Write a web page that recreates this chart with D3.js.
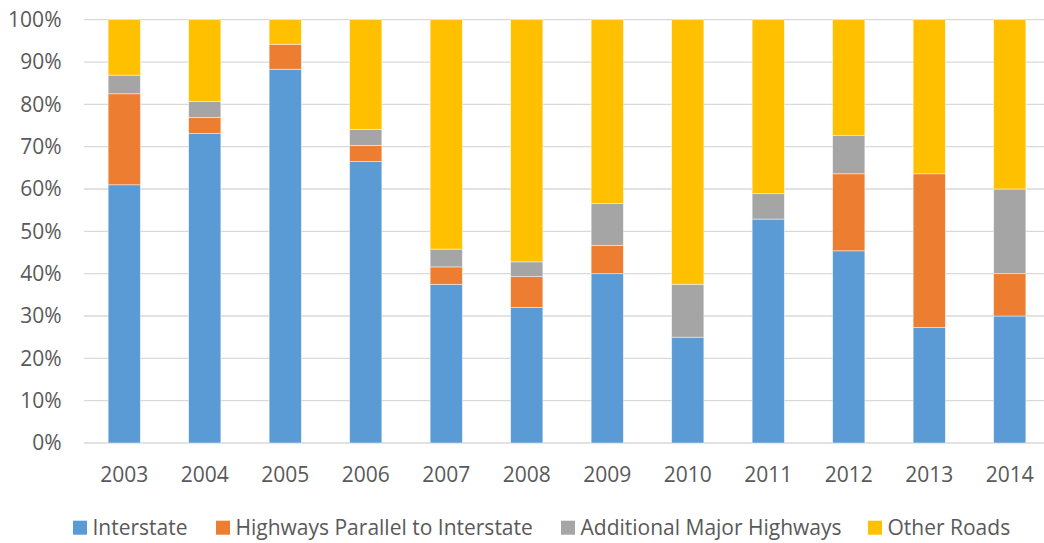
<!DOCTYPE html>
<html><head><meta charset="utf-8">
<script src="https://cdn.jsdelivr.net/npm/d3@7"></script>
<style>body{margin:0;background:#fff}svg text{font-family:"Open Sans",sans-serif;fill:#595959}</style>
</head><body><svg id="c" width="1044" height="543"></svg>
<script>
const years = ["2003","2004","2005","2006","2007","2008","2009","2010","2011","2012","2013","2014"];
const seriesNames = ["Interstate","Highways Parallel to Interstate","Additional Major Highways","Other Roads"];
const interstate = [61.0,73.1,88.3,66.5,37.5,32.0,40.0,25.0,52.9,45.4,27.3,30.0];
const parallel   = [21.5,3.8,5.9,3.8,4.1,7.3,6.7,0,0,18.2,36.3,10.0];
const additional = [4.4,3.8,0,3.8,4.2,3.5,9.9,12.5,6.0,9.1,0,20.0];
const other      = [13.1,19.3,5.8,25.9,54.2,57.2,43.4,62.5,41.1,27.3,36.4,40.0];
const yTicks = [0,10,20,30,40,50,60,70,80,90,100];
const colors = ["#5B9BD5","#ED7D31","#A5A5A5","#FFC000"];

const svg = d3.select("#c");
const m = {l:84, r:1050, t:19.7, b:443};
const x = d3.scaleBand().domain(years).range([m.l, m.r]).paddingInner(0.6).paddingOuter(0.3);
const y = d3.scaleLinear().domain([0,100]).range([m.b, m.t]);

const rows = years.map((yr,i)=>({year:yr, s0:interstate[i], s1:parallel[i], s2:additional[i], s3:other[i]}));
const stack = d3.stack().keys(["s0","s1","s2","s3"]);
const layers = stack(rows);

// gridlines
svg.append("g").selectAll("line").data(yTicks).join("line")
  .attr("x1", m.l).attr("x2", m.r)
  .attr("y1", d=>y(d)).attr("y2", d=>y(d))
  .attr("stroke", "#D9D9D9").attr("stroke-width", 1.3);

// bars
svg.append("g").selectAll("g").data(layers).join("g")
  .attr("fill", (d,i)=>colors[i])
  .selectAll("rect").data(d=>d.filter(p=>p[1]-p[0]>0)).join("rect")
  .attr("x", d=>x(d.data.year)).attr("width", x.bandwidth())
  .attr("y", d=>y(d[1])).attr("height", d=>y(d[0])-y(d[1]))
  .attr("stroke","#fff").attr("stroke-opacity",0.6).attr("stroke-width",0.75);

// y axis
const ya = svg.append("g").attr("transform",`translate(${m.l},0)`)
  .call(d3.axisLeft(y).tickValues(yTicks).tickFormat(d=>d+"%").tickSize(0).tickPadding(22.5));
ya.select(".domain").remove();
ya.selectAll("text").attr("font-size",21).attr("fill","#595959").style("font-family","'Open Sans',sans-serif");

// x axis
const xa = svg.append("g").attr("transform",`translate(0,${m.b})`)
  .call(d3.axisBottom(x).tickSize(0).tickPadding(24));
xa.select(".domain").remove();
xa.selectAll("text").attr("font-size",21).attr("fill","#595959").style("font-family","'Open Sans',sans-serif");

// legend
const legX = [73, 216, 561, 868];
const leg = svg.append("g").selectAll("g").data(seriesNames).join("g")
  .attr("transform",(d,i)=>`translate(${legX[i]},527.7)`);
leg.append("rect").attr("x",0).attr("y",-7).attr("width",14).attr("height",14).attr("fill",(d,i)=>colors[i]);
leg.append("text").attr("x",19.5).attr("y",0).attr("dy","0.36em").attr("font-size",21).text(d=>d);
</script></body></html>
